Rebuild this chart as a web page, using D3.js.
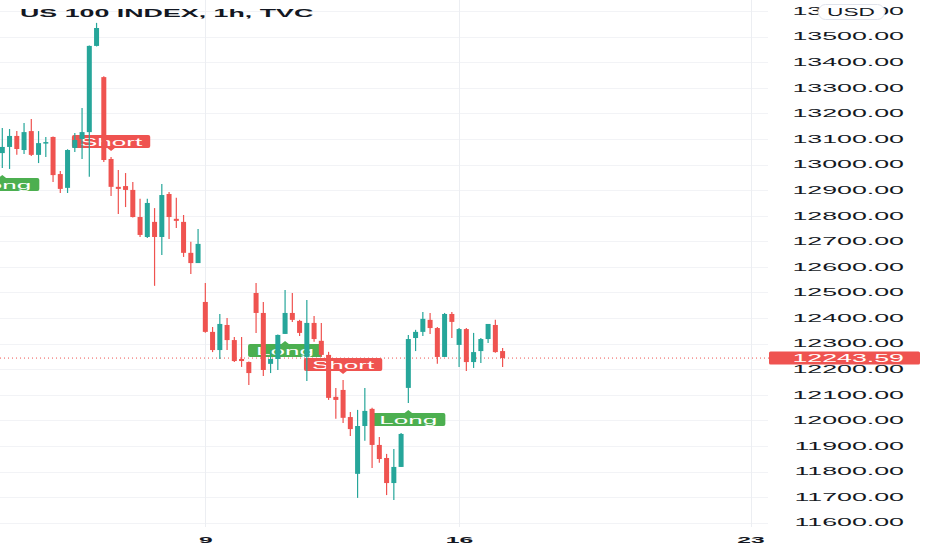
<!DOCTYPE html>
<html>
<head>
<meta charset="utf-8">
<script src="https://cdn.jsdelivr.net/npm/d3@7"></script>
<style>
  html, body { margin: 0; padding: 0; background: #ffffff; }
  svg { display: block; font-family: "Liberation Sans", Arial, sans-serif; }
</style>
</head>
<body>
<svg id="chart" width="932" height="550"></svg>
<script>
// ---------- DATA ----------
const title = "US 100 INDEX, 1h, TVC";
const currency = "USD";
const opens  = [13045,13069,13112,13057,13131,13038,13085,13108,12963,12909,13065,13100,13127,13464,13342,13022,12913,12916,12901,12795,12717,12776,12717,12885,12788,12776,12655,12615,
                12463,12346,12275,12373,12314,12240,12228,12498,12420,12221,12240,12338,12420,12389,12248,12381,12311,12256,12092,12119,12013,11791,11978,12045,11904,11853,11755,11818,
                12127,12322,12346,12393,12361,12248,12416,12295,12357,12228,12271,12318,12373,12271];
const highs  = [13143,13139,13131,13163,13178,13131,13108,13110,12975,13060,13124,13221,13466,13554,13345,13030,12979,12967,12932,12866,12866,12830,12924,12893,12870,12803,12698,12748,
                12537,12365,12416,12400,12326,12326,12230,12537,12463,12275,12336,12510,12498,12393,12471,12408,12381,12268,12127,12158,12033,12041,12127,12049,11935,11869,11888,11951,
                12334,12354,12424,12420,12365,12420,12424,12361,12361,12342,12322,12377,12393,12283];
const lows   = [12987,12983,13038,13041,13034,13006,13030,12932,12889,12889,13049,13022,12952,13462,13010,12877,12807,12834,12793,12717,12713,12526,12647,12709,12752,12639,12572,12615,
                12343,12267,12240,12275,12228,12209,12138,12342,12174,12185,12197,12338,12385,12330,12154,12307,12248,12080,12006,11990,11939,11697,11920,11814,11834,11708,11689,11818,
                12068,12271,12330,12338,12221,12248,12322,12209,12193,12205,12224,12303,12264,12209];
const closes = [13069,13112,13061,13127,13038,13084,13088,12959,12905,13057,13096,13127,13464,13534,13018,12913,12905,12901,12795,12725,12850,12717,12881,12795,12780,12655,12615,12690,
                12346,12275,12377,12314,12232,12232,12185,12420,12197,12240,12334,12420,12393,12342,12381,12318,12256,12088,12080,12010,11966,11978,12037,11904,11849,11755,11818,11947,
                12318,12346,12397,12361,12248,12416,12385,12357,12228,12267,12318,12377,12267,12243.59];
const lastPrice = 12243.59;
const priceTicks = [11600,11700,11800,11900,12000,12100,12200,12300,12400,12500,12600,12700,12800,12900,13000,13100,13200,13300,13400,13500,13600];
const dayTickBars = [28, 63, 103.2];
const dayTickLabels = ["9", "16", "23"];
const signalBars  = [0, 15, 39, 47, 56];
const signalTypes = ["Long", "Short", "Long", "Short", "Long"];

// ---------- STYLE ----------
const UP = "#26a69a", DOWN = "#ef5350", LONG_C = "#4caf50", SHORT_C = "#ef5350";
const TEXT_C = "#131722", GRID_C = "#f2f3f6";
const plotRight = 768;

// ---------- SCALES ----------
const x = d3.scaleLinear().domain([0, opens.length - 1]).range([2.3, 502.6]);
const y = d3.scaleLinear().domain([11600, 13500]).range([522.7, 36.7]);

const svg = d3.select("#chart");

// grid
const grid = svg.append("g");
grid.selectAll("line.h").data(priceTicks).join("line")
  .attr("x1", 0).attr("x2", plotRight)
  .attr("y1", d => Math.round(y(d)) + 0.5).attr("y2", d => Math.round(y(d)) + 0.5)
  .attr("stroke", GRID_C).attr("stroke-width", 1);
grid.selectAll("line.v").data(dayTickBars).join("line")
  .attr("x1", d => Math.round(x(d)) + 0.5).attr("x2", d => Math.round(x(d)) + 0.5)
  .attr("y1", 0).attr("y2", 527)
  .attr("stroke", "#eceef2").attr("stroke-width", 1);

// last price dotted line
svg.append("line")
  .attr("x1", 0).attr("x2", plotRight + 1)
  .attr("y1", y(lastPrice)).attr("y2", y(lastPrice))
  .attr("stroke", DOWN).attr("stroke-width", 1).attr("stroke-dasharray", "1,3");

// helper for horizontally stretched text (the reference is stretched ~2.4x)
function stretched(parent, tx, ty, txt, size, sx, opts = {}) {
  const g = parent.append("g").attr("transform", `translate(${tx},${ty})`);
  const t = g.append("text")
    .attr("transform", `scale(${sx},1)`)
    .attr("font-size", size)
    .attr("font-weight", opts.weight || "normal")
    .attr("fill", opts.fill || TEXT_C)
    .attr("text-anchor", opts.anchor || "start")
    .attr("dominant-baseline", opts.baseline || "auto")
    .text(txt);
  return t;
}

// signal labels (drawn beneath candles)
const sigG = svg.append("g");
signalBars.forEach((bi, k) => {
  const type = signalTypes[k];
  const cx = x(bi);
  const isLong = type === "Long";
  const col = isLong ? LONG_C : SHORT_C;
  const h = 13;
  const g = sigG.append("g");
  // measure text width
  const sx = 2.37;
  const tmp = g.append("text").attr("font-size", 11).text(type);
  const tw = tmp.node().getComputedTextLength() * sx;
  tmp.remove();
  const w = tw + 16;
  let top;
  if (isLong) {
    const tipY = y(lows[bi]) + 7;
    top = tipY + 3;
    g.append("path").attr("d", `M${cx - 5},${top + 1} L${cx},${tipY} L${cx + 5},${top + 1} Z`).attr("fill", col);
  } else {
    const tipY = y(highs[bi]) - 6;
    top = tipY - 3 - h;
    g.append("path").attr("d", `M${cx - 5},${top + h - 1} L${cx},${tipY} L${cx + 5},${top + h - 1} Z`).attr("fill", col);
  }
  g.append("rect").attr("x", cx - w / 2).attr("y", top).attr("width", w).attr("height", h)
    .attr("rx", 2).attr("fill", col);
  stretched(g, cx, top + h / 2 + 0.5, type, 11, sx, { fill: "#ffffff", anchor: "middle", baseline: "central" });
});

// candles
const bodyW = 5;
const cg = svg.append("g");
const candles = cg.selectAll("g.c").data(opens.map((o, i) => i)).join("g");
candles.append("line")
  .attr("x1", i => x(i)).attr("x2", i => x(i))
  .attr("y1", i => y(highs[i])).attr("y2", i => y(lows[i]))
  .attr("stroke", i => closes[i] >= opens[i] ? UP : DOWN)
  .attr("stroke-width", 1.2);
candles.append("rect")
  .attr("x", i => x(i) - bodyW / 2)
  .attr("width", bodyW)
  .attr("y", i => y(Math.max(opens[i], closes[i])))
  .attr("height", i => Math.max(1.5, Math.abs(y(opens[i]) - y(closes[i]))))
  .attr("fill", i => closes[i] >= opens[i] ? UP : DOWN);

// right price axis
const yAxis = d3.axisLeft(y).tickValues(priceTicks).tickFormat(d3.format(".2f")).tickSize(0).tickPadding(0);
const ya = svg.append("g").attr("transform", "translate(904,0)").call(yAxis);
ya.select(".domain").remove();
ya.selectAll("text")
  .attr("x", 0)
  .attr("font-size", 10.3)
  .attr("font-family", "'Liberation Sans', Arial, sans-serif")
  .attr("fill", TEXT_C)
  .attr("transform", "scale(2.6,1)");

// bottom time axis
const xAxis = d3.axisBottom(x).tickValues(dayTickBars).tickFormat((d, i) => dayTickLabels[i]).tickSize(0).tickPadding(0);
const xa = svg.append("g").attr("transform", "translate(0,543)").call(xAxis);
xa.select(".domain").remove();
xa.selectAll("text")
  .attr("y", 0).attr("dy", 0)
  .attr("font-size", 9.5)
  .attr("font-weight", "bold")
  .attr("font-family", "'Liberation Sans', Arial, sans-serif")
  .attr("fill", TEXT_C)
  .attr("transform", "scale(2.6,1)");

// last price tag
const ly = y(lastPrice);
svg.append("rect").attr("x", 769).attr("y", ly - 6.5).attr("width", 151).attr("height", 13)
  .attr("rx", 1.5).attr("fill", DOWN);
stretched(svg, 904, ly + 0.5, d3.format(".2f")(lastPrice), 10.3, 2.6,
  { fill: "#ffffff", anchor: "end", baseline: "central" });

// currency box
svg.append("rect").attr("x", 818.5).attr("y", 4.5).attr("width", 66).attr("height", 15)
  .attr("rx", 7).attr("fill", "#ffffff").attr("stroke", "#e0e3eb");
stretched(svg, 851, 12.5, currency, 10, 2.27, { anchor: "middle", baseline: "central" });

// title
stretched(svg, 20, 16.7, title, 11.5, 2.33, { weight: "bold" });
</script>
</body>
</html>
